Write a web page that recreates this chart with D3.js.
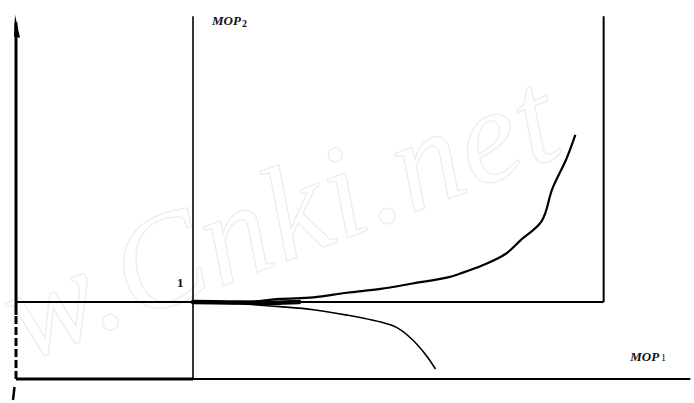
<!DOCTYPE html>
<html lang="en">
<head>
  <meta charset="UTF-8">
  <title>MOP1 / MOP2 diagram</title>
  <script src="https://d3js.org/d3.v7.min.js"></script>
  <style>
    * { margin: 0; padding: 0; box-sizing: border-box; }
    body { background: #fff; width: 694px; height: 403px; overflow: hidden; }
    svg { display: block; }
    .lbl { font-family: 'Liberation Serif', 'DejaVu Serif', serif; font-weight: bold; font-style: italic; fill: #111; }
  </style>
</head>
<body>
  <div id="chart"></div>
  <script>
    // curve points in (MOP1, MOP2) units, (1,1) is the reference point
    const upperCurve = [
      [1.00, 1.00], [1.15, 1.00], [1.31, 1.00], [1.49, 1.04], [1.68, 1.06],
      [1.87, 1.12], [2.06, 1.17], [2.24, 1.24], [2.44, 1.32], [2.51, 1.37],
      [2.64, 1.48], [2.77, 1.63], [2.85, 1.80], [2.97, 2.05], [3.03, 2.47],
      [3.11, 2.86], [3.16, 3.17]
    ];
    const lowerCurve = [
      [1.00, 1.00], [1.15, 0.99], [1.31, 0.97], [1.49, 0.94], [1.68, 0.90],
      [1.87, 0.83], [2.06, 0.74], [2.15, 0.67], [2.24, 0.51], [2.32, 0.30],
      [2.37, 0.13]
    ];
    // overlapping stretch near the reference point, drawn heavier
    const overlapBand = [[1.00, 1.00], [1.20, 0.995], [1.45, 0.99], [1.60, 1.00]];

    const axisTop = 4.73;     // top of the two vertical axes
    const boxRight = 3.32;    // right edge of the upper box
    const axisRight = 3.81;   // end of the MOP1 axis
    const dashedTo = 0.83;    // lower part of the left axis is dashed

    const width = 694, height = 403;

    const x = d3.scaleLinear().domain([0, 1]).range([16, 193]);
    const y = d3.scaleLinear().domain([0, 1]).range([379, 302]);

    const svg = d3.select("#chart").append("svg")
      .attr("width", width)
      .attr("height", height);

    // faint watermark
    svg.append("text")
      .attr("x", 24).attr("y", 362)
      .attr("transform", "rotate(-21, 24, 362)")
      .attr("fill", "none")
      .attr("stroke", "#ededed")
      .attr("stroke-width", 1.3)
      .style("font-family", "'Liberation Serif', serif")
      .style("font-style", "italic")
      .style("font-size", "134px")
      .style("letter-spacing", "2px")
      .text("w.Cnki.net");

    const seg = (x1, y1, x2, y2, w, dash) => {
      const l = svg.append("line")
        .attr("x1", x(x1)).attr("y1", y(y1))
        .attr("x2", x(x2)).attr("y2", y(y2))
        .attr("stroke", "#000")
        .attr("stroke-width", w);
      if (dash) l.attr("stroke-dasharray", dash);
      return l;
    };

    // left axis: solid upper part, dashed lower part
    seg(0, dashedTo, 0, axisTop - 0.1, 3);
    seg(0, 0, 0, dashedTo, 3, "8,3");
    // stray dash below the origin
    svg.append("line")
      .attr("x1", x(0) - 1.5).attr("y1", y(0) + 8)
      .attr("x2", x(0) - 3).attr("y2", y(0) + 21)
      .attr("stroke", "#000").attr("stroke-width", 2.5);

    // arrow head on the left axis
    svg.append("path")
      .attr("d", `M${x(0) - 1},${y(axisTop)} L${x(0) + 4},${y(axisTop) + 23} L${x(0) - 2},${y(axisTop) + 22} Z`)
      .attr("fill", "#000");

    // MOP2 axis at MOP1 = 1
    seg(1, 0, 1, axisTop - 0.02, 1.6);
    // horizontal line at MOP2 = 1 and the box around the upper region
    seg(0, 1, boxRight, 1, 2);
    seg(boxRight, 1, boxRight, axisTop - 0.02, 2);
    // MOP1 axis
    seg(0, 0, 1, 0, 3);
    seg(1, 0, axisRight, 0, 1.8);

    const line = d3.line()
      .x(d => x(d[0]))
      .y(d => y(d[1]))
      .curve(d3.curveCatmullRom.alpha(0.5));

    svg.append("path")
      .datum(upperCurve)
      .attr("fill", "none")
      .attr("stroke", "#000")
      .attr("stroke-width", 2.2)
      .attr("d", line);

    svg.append("path")
      .datum(lowerCurve)
      .attr("fill", "none")
      .attr("stroke", "#000")
      .attr("stroke-width", 1.6)
      .attr("d", line);

    svg.append("path")
      .datum(overlapBand)
      .attr("fill", "none")
      .attr("stroke", "#000")
      .attr("stroke-width", 4.5)
      .attr("stroke-linecap", "round")
      .attr("d", line);

    // labels
    const mop2 = svg.append("text").attr("class", "lbl")
      .attr("x", x(1) + 19).attr("y", y(axisTop) + 10)
      .style("font-size", "13px");
    mop2.append("tspan").text("MOP");
    mop2.append("tspan").attr("dy", 2).attr("dx", 1).style("font-size", "10px").style("font-style", "normal").text("2");

    svg.append("text").attr("class", "lbl")
      .attr("x", x(1) - 16).attr("y", y(1) - 15)
      .style("font-size", "13px")
      .style("font-style", "normal")
      .text("1");

    const mop1 = svg.append("text").attr("class", "lbl")
      .attr("x", x(3.47)).attr("y", y(0) - 18)
      .style("font-size", "13px");
    mop1.append("tspan").text("MOP");
    mop1.append("tspan").attr("dx", 2).style("font-size", "10px").style("font-style", "normal").style("font-weight", "normal").text("1");
  </script>
</body>
</html>
